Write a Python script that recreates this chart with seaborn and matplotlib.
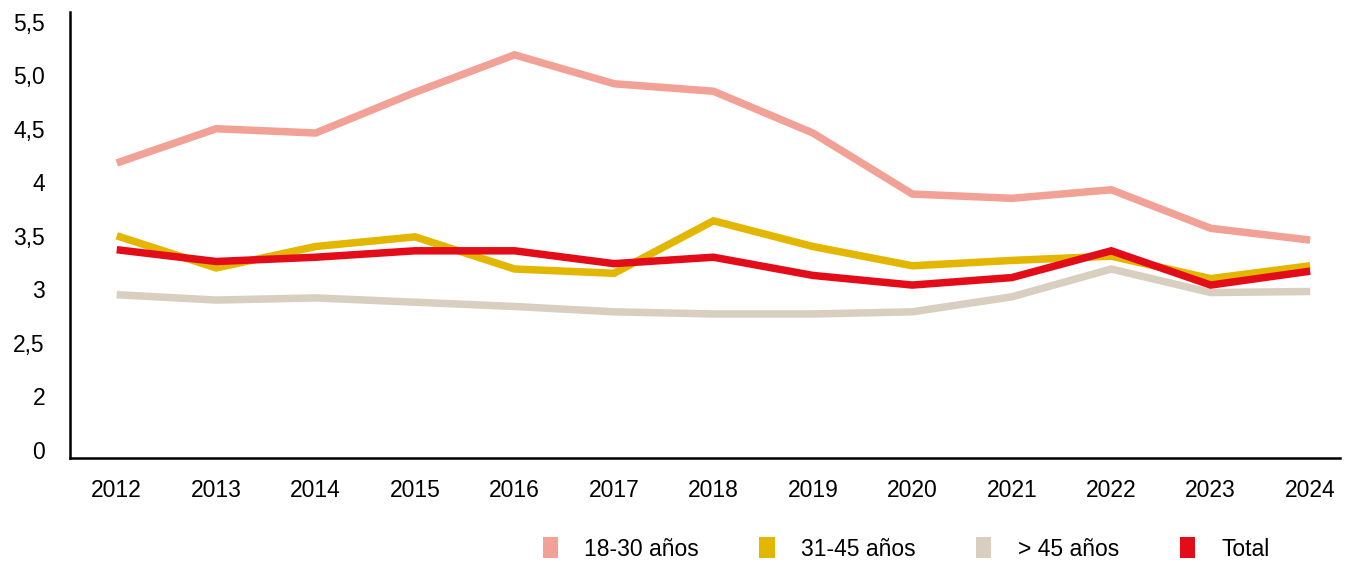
import pandas as pd
import matplotlib.pyplot as plt
import seaborn as sns
from matplotlib.patches import Patch

years = [2012, 2013, 2014, 2015, 2016, 2017, 2018, 2019, 2020, 2021, 2022, 2023, 2024]
g18_30 = [4.18, 4.50, 4.46, 4.84, 5.19, 4.92, 4.85, 4.46, 3.89, 3.85, 3.93, 3.57, 3.46]
g31_45 = [3.50, 3.20, 3.40, 3.49, 3.19, 3.15, 3.64, 3.40, 3.22, 3.27, 3.31, 3.10, 3.22]
g45 = [2.95, 2.90, 2.92, 2.88, 2.84, 2.79, 2.77, 2.77, 2.79, 2.93, 3.19, 2.97, 2.98]
total = [3.37, 3.26, 3.30, 3.36, 3.36, 3.24, 3.30, 3.13, 3.04, 3.11, 3.36, 3.04, 3.17]

series_names = ['18-30 años', '31-45 años', '> 45 años', 'Total']
colors = ['#F2A196', '#E3B600', '#D8CFC0', '#E30D1A']

# broken axis: the "0" label sits where 1.5 would be
ytick_vals = [1.5, 2, 2.5, 3, 3.5, 4, 4.5, 5, 5.5]
ytick_labels = ['0', '2', '2,5', '3', '3,5', '4', '4,5', '5,0', '5,5']

df = pd.DataFrame({'year': years * 4,
                   'value': g18_30 + g31_45 + g45 + total,
                   'serie': sum([[n] * len(years) for n in series_names], [])})

sns.set_style('white')
plt.rcParams['font.family'] = ['Liberation Sans', 'DejaVu Sans']
plt.rcParams['text.color'] = 'black'
plt.rcParams['xtick.color'] = 'black'
plt.rcParams['ytick.color'] = 'black'

fig = plt.figure(figsize=(13.64, 5.65), dpi=100)
ax = fig.add_axes([70 / 1364, 107 / 565, 1270 / 1364, 446 / 565])

sns.lineplot(data=df, x='year', y='value', hue='serie', palette=colors,
             hue_order=series_names, linewidth=5.4, legend=False, ax=ax)
for ln in ax.lines:
    ln.set_solid_capstyle('butt')
    ln.set_solid_joinstyle('miter')

ax.set_xlim(2011.53, 2024.3)
ax.set_ylim(1.425, 5.59)
ax.set_xticks(years)
ax.set_xticklabels([str(y) for y in years], fontsize=16.5)
ax.set_yticks(ytick_vals)
ax.set_yticklabels(ytick_labels, fontsize=16.5)
ax.tick_params(axis='both', length=0)
ax.tick_params(axis='x', pad=15)
ax.tick_params(axis='y', pad=18)
ax.set_xlabel('')
ax.set_ylabel('')
sns.despine(ax=ax)
for s in ['left', 'bottom']:
    ax.spines[s].set_color('black')
    ax.spines[s].set_linewidth(1.8)

handles = [Patch(facecolor=c, edgecolor='none') for c in colors]
fig.legend(handles, series_names, loc='center', ncol=4, frameon=False,
           bbox_to_anchor=(906 / 1364, 1 - 549 / 565), fontsize=16.5,
           handletextpad=1.15, columnspacing=2.65, handlelength=0.66,
           handleheight=1.0)

fig.savefig('out.png', dpi=100)
plt.close()
